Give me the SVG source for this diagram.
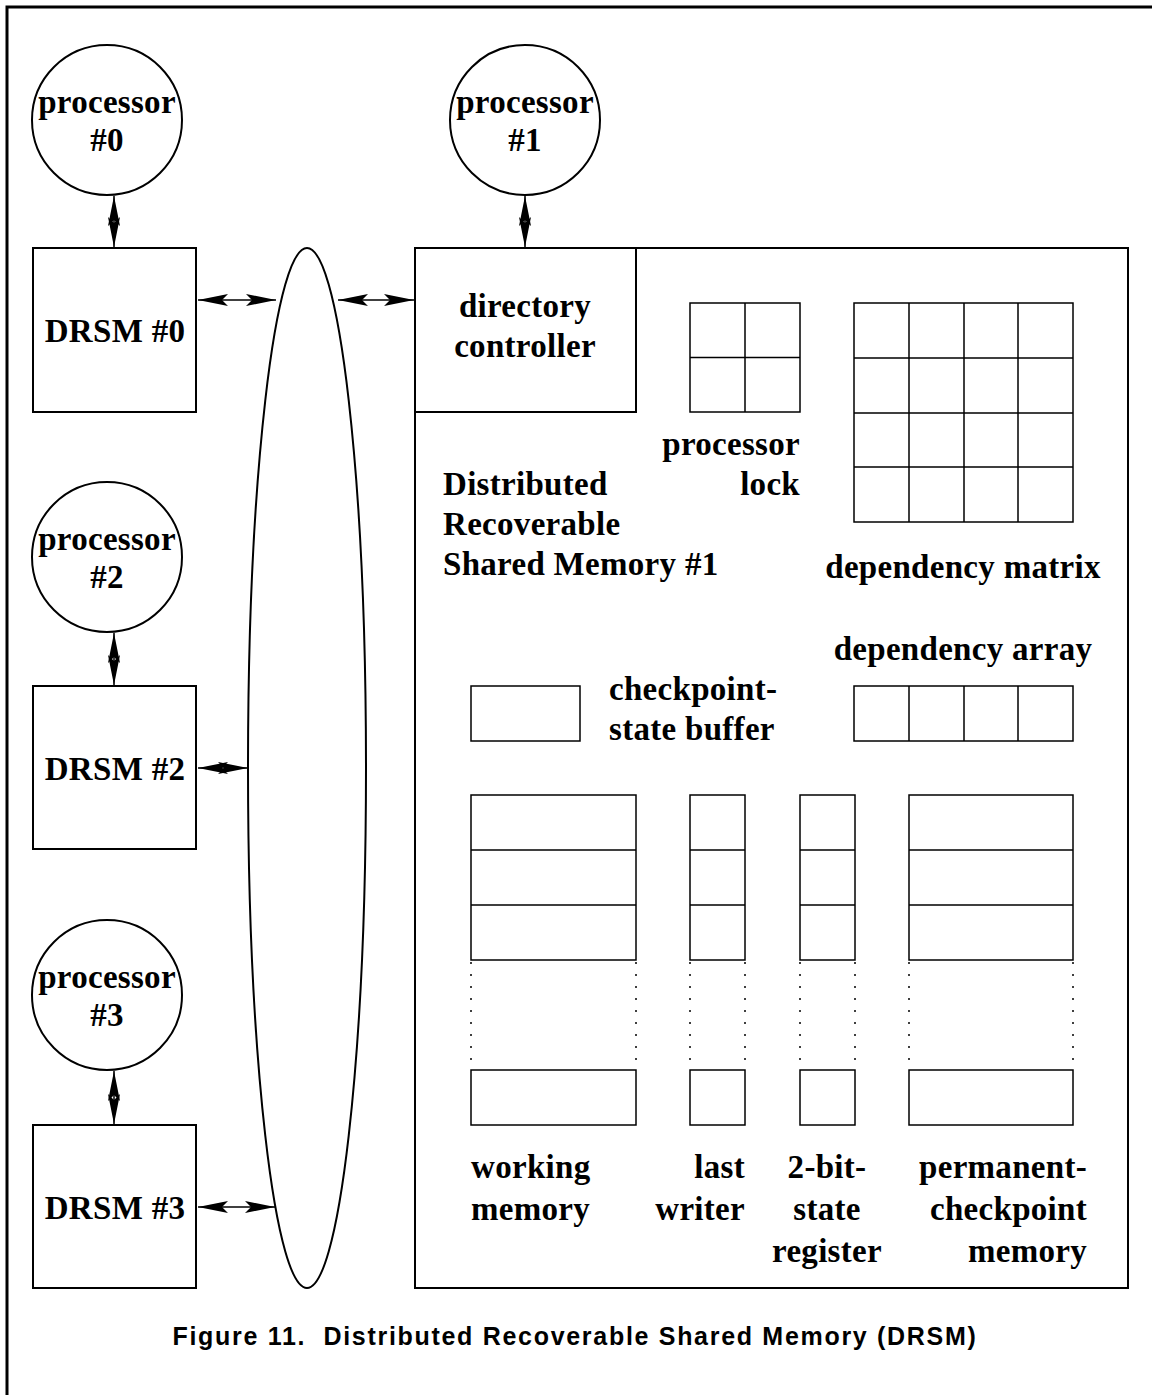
<svg xmlns="http://www.w3.org/2000/svg" width="1152" height="1395" viewBox="0 0 1152 1395">
  <style>
    .shape { fill: #fff; stroke: #000; stroke-width: 2; }
    .grid { fill: none; stroke: #000; stroke-width: 1.5; }
    .dots { fill: none; stroke: #000; stroke-width: 1.5; stroke-dasharray: 2 10; }
    .wire { fill: none; stroke: #000; stroke-width: 1.5; marker-start: url(#head); marker-end: url(#head); }
    .lbl { font-family: "Liberation Serif", "Times New Roman", serif; font-weight: bold; font-size: 33px; letter-spacing: 0.3px; fill: #000; }
    .mid { text-anchor: middle; }
    .end { text-anchor: end; }
    .cap { font-family: "Liberation Sans", Arial, sans-serif; font-weight: bold; font-size: 25px; letter-spacing: 1.7px; fill: #000; text-anchor: middle; white-space: pre; }
  </style>
  <defs>
    <marker id="head" markerUnits="userSpaceOnUse" viewBox="-32 -8 34 16" refX="0" refY="0" markerWidth="34" markerHeight="16" orient="auto-start-reverse">
      <path d="M0,0 L-30,-6 L-24,0 L-30,6 Z" fill="#000"/>
    </marker>
  </defs>

  <rect width="1152" height="1395" fill="#fff"/>
  <!-- page frame -->
  <path d="M7,1395 V7 H1152" fill="none" stroke="#000" stroke-width="3"/>

  <!-- connectors -->
  <g id="connectors">
    <path class="wire" d="M114,196 V247"/>
    <path class="wire" d="M525,196 V247"/>
    <path class="wire" d="M114,633 V685"/>
    <path class="wire" d="M114,1071 V1124"/>
    <path class="wire" d="M198,300 H276"/>
    <path class="wire" d="M338,300 H414"/>
    <path class="wire" d="M198,768 H248"/>
    <path class="wire" d="M198,1207 H275"/>
  </g>

  <g id="processor0">
    <circle class="shape" cx="107" cy="120" r="75"/>
    <text class="lbl mid" x="107" y="113">processor</text>
    <text class="lbl mid" x="107" y="151">#0</text>
  </g>
  <g id="processor1">
    <circle class="shape" cx="525" cy="120" r="75"/>
    <text class="lbl mid" x="525" y="113">processor</text>
    <text class="lbl mid" x="525" y="151">#1</text>
  </g>
  <g id="processor2">
    <circle class="shape" cx="107" cy="557" r="75"/>
    <text class="lbl mid" x="107" y="550">processor</text>
    <text class="lbl mid" x="107" y="588">#2</text>
  </g>
  <g id="processor3">
    <circle class="shape" cx="107" cy="995" r="75"/>
    <text class="lbl mid" x="107" y="988">processor</text>
    <text class="lbl mid" x="107" y="1026">#3</text>
  </g>

  <g id="drsm0">
    <rect class="shape" x="33" y="248" width="163" height="164"/>
    <text class="lbl mid" x="115" y="342">DRSM #0</text>
  </g>
  <g id="drsm2">
    <rect class="shape" x="33" y="686" width="163" height="163"/>
    <text class="lbl mid" x="115" y="780">DRSM #2</text>
  </g>
  <g id="drsm3">
    <rect class="shape" x="33" y="1125" width="163" height="163"/>
    <text class="lbl mid" x="115" y="1219">DRSM #3</text>
  </g>

  <g id="interconnect">
    <ellipse class="shape" cx="307" cy="768" rx="59" ry="520"/>
  </g>

  <g id="drsm1">
    <rect class="shape" x="415" y="248" width="713" height="1040"/>
    <text class="lbl" x="443" y="495">Distributed</text>
    <text class="lbl" x="443" y="535">Recoverable</text>
    <text class="lbl" x="443" y="575">Shared Memory #1</text>
  </g>

  <g id="directory-controller">
    <rect class="shape" x="415" y="248" width="221" height="164"/>
    <text class="lbl mid" x="525" y="317">directory</text>
    <text class="lbl mid" x="525" y="357">controller</text>
  </g>

  <g id="processor-lock">
    <rect class="grid" x="690" y="303" width="110" height="109"/>
    <path class="grid" d="M745,303 V412 M690,357.5 H800"/>
    <text class="lbl end" x="800" y="455">processor</text>
    <text class="lbl end" x="800" y="495">lock</text>
  </g>

  <g id="dependency-matrix">
    <rect class="grid" x="854" y="303" width="219" height="219"/>
    <path class="grid" d="M909,303 V522 M964,303 V522 M1018,303 V522 M854,358 H1073 M854,413 H1073 M854,467 H1073"/>
    <text class="lbl mid" x="963" y="578">dependency matrix</text>
  </g>

  <g id="dependency-array">
    <rect class="grid" x="854" y="686" width="219" height="55"/>
    <path class="grid" d="M909,686 V741 M964,686 V741 M1018,686 V741"/>
    <text class="lbl mid" x="963" y="660">dependency array</text>
  </g>

  <g id="checkpoint-state-buffer">
    <rect class="grid" x="471" y="686" width="109" height="55"/>
    <text class="lbl" x="609" y="700">checkpoint-</text>
    <text class="lbl" x="609" y="740">state buffer</text>
  </g>

  <g id="working-memory">
    <rect class="grid" x="471" y="795" width="165" height="165"/>
    <path class="grid" d="M471,850 H636 M471,905 H636"/>
    <path class="dots" d="M471,962 V1070 M636,962 V1070"/>
    <rect class="grid" x="471" y="1070" width="165" height="55"/>
    <text class="lbl" x="471" y="1178">working</text>
    <text class="lbl" x="471" y="1220">memory</text>
  </g>

  <g id="last-writer">
    <rect class="grid" x="690" y="795" width="55" height="165"/>
    <path class="grid" d="M690,850 H745 M690,905 H745"/>
    <path class="dots" d="M690,962 V1070 M745,962 V1070"/>
    <rect class="grid" x="690" y="1070" width="55" height="55"/>
    <text class="lbl end" x="745" y="1178">last</text>
    <text class="lbl end" x="745" y="1220">writer</text>
  </g>

  <g id="state-register">
    <rect class="grid" x="800" y="795" width="55" height="165"/>
    <path class="grid" d="M800,850 H855 M800,905 H855"/>
    <path class="dots" d="M800,962 V1070 M855,962 V1070"/>
    <rect class="grid" x="800" y="1070" width="55" height="55"/>
    <text class="lbl mid" x="827" y="1178">2-bit-</text>
    <text class="lbl mid" x="827" y="1220">state</text>
    <text class="lbl mid" x="827" y="1262">register</text>
  </g>

  <g id="permanent-checkpoint-memory">
    <rect class="grid" x="909" y="795" width="164" height="165"/>
    <path class="grid" d="M909,850 H1073 M909,905 H1073"/>
    <path class="dots" d="M909,962 V1070 M1073,962 V1070"/>
    <rect class="grid" x="909" y="1070" width="164" height="55"/>
    <text class="lbl end" x="1087" y="1178">permanent-</text>
    <text class="lbl end" x="1087" y="1220">checkpoint</text>
    <text class="lbl end" x="1087" y="1262">memory</text>
  </g>

  <text class="cap" x="575" y="1345" xml:space="preserve">Figure 11.  Distributed Recoverable Shared Memory (DRSM)</text>
</svg>
